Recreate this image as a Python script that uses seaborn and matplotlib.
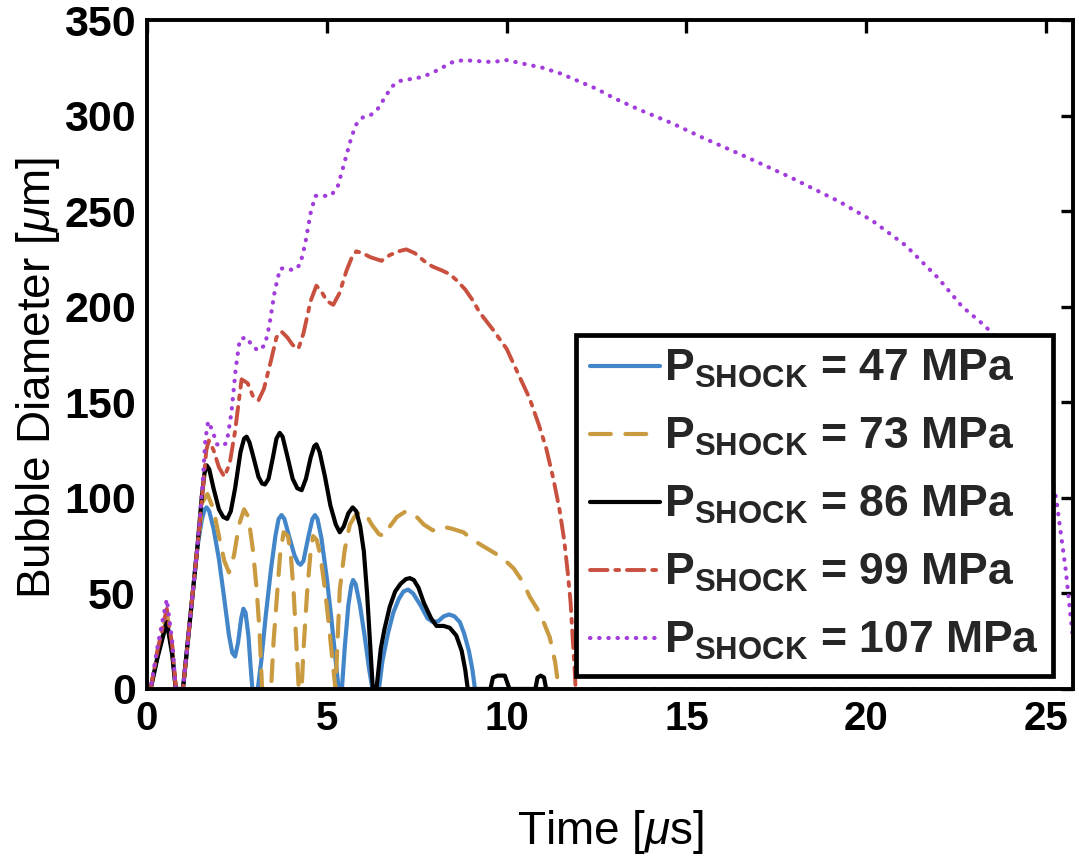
import numpy as np
import pandas as pd
import matplotlib
matplotlib.use("Agg")
import matplotlib.pyplot as plt
from matplotlib import font_manager as fm
import seaborn as sns

# ---------------- data ----------------
labels = [r"$\mathbf{P_{SHOCK}}$ = 47 MPa",
          r"$\mathbf{P_{SHOCK}}$ = 73 MPa",
          r"$\mathbf{P_{SHOCK}}$ = 86 MPa",
          r"$\mathbf{P_{SHOCK}}$ = 99 MPa",
          r"$\mathbf{P_{SHOCK}}$ = 107 MPa"]

t_47 = [0, 0.1, 0.3, 0.55, 0.7, 0.8, 1.0, 1.2, 1.4, 1.52, 1.6, 1.66, 1.73, 1.85, 2.0, 2.15,
        2.28, 2.37, 2.45, 2.53, 2.62, 2.68, 2.74, 2.82, 2.88, 2.93, 3.08, 3.18, 3.3, 3.45,
        3.57, 3.66, 3.74, 3.82, 3.95, 4.1, 4.2, 4.27, 4.35, 4.48, 4.6, 4.67, 4.74, 4.85, 5.0,
        5.12, 5.24, 5.33, 5.42, 5.5, 5.6, 5.68, 5.73, 5.8, 5.92, 6.05, 6.18, 6.27, 6.45, 6.55,
        6.7, 6.85, 7.0, 7.13, 7.26, 7.4, 7.6, 7.8, 7.95, 8.1, 8.25, 8.4, 8.55, 8.7, 8.82,
        8.95, 9.05, 9.12, 11.2]
d_47 = [0, 0, 18, 36, 20, 0, 0, 37, 74, 88, 94, 95, 93, 84, 68, 47,
        28, 19, 17, 24, 37, 42, 40, 28, 12, 0, 0, 15, 38, 63,
        80, 89, 91, 89, 80, 70, 66, 65, 67, 79, 89, 91, 89, 79, 58,
        38, 16, 0, 0, 22, 44, 54, 57, 55, 44, 28, 10, 0, 0, 15,
        29, 40, 47, 51, 52, 50, 44, 37, 35, 35.5, 38, 39, 38, 35, 29,
        20, 10, 0, 0]

t_73 = [0, 0.1, 0.3, 0.55, 0.7, 0.8, 1.0, 1.2, 1.4, 1.55, 1.68, 1.85, 2.0, 2.15, 2.28, 2.42,
        2.56, 2.7, 2.82, 2.95, 3.05, 3.13, 3.2, 3.45, 3.52, 3.62, 3.7, 3.8, 3.92, 4.0, 4.08,
        4.15, 4.22, 4.3, 4.35, 4.45, 4.55, 4.62, 4.72, 4.82, 4.95, 5.05, 5.13, 5.24, 5.3,
        5.36, 5.5, 5.64, 5.8, 5.95, 6.1, 6.25, 6.45, 6.6, 6.75, 6.95, 7.2, 7.45, 7.7, 7.95,
        8.2, 8.45, 8.8, 9.06, 9.5, 9.86, 10.2, 10.45, 10.65, 10.85, 11.05, 11.2, 11.35, 11.45]
d_73 = [0, 0, 20, 40, 22, 0, 0, 37, 74, 98, 102, 94, 80, 67, 61, 70,
        86, 94, 90, 72, 52, 30, 0, 0, 25, 50, 70, 82, 80, 70, 50,
        25, 0, 0, 20, 50, 72, 80, 78, 70, 52, 35, 20, 0, 25,
        52, 73, 86, 91, 93, 91, 86, 81, 80, 85, 90, 93, 91, 86, 83,
        85, 84, 82, 78, 73, 69, 63, 56, 48, 42, 34, 27, 14, 0]

t_86 = [0, 0.1, 0.3, 0.55, 0.7, 0.8, 1.0, 1.2, 1.4, 1.52, 1.6, 1.66, 1.73, 1.85, 2.0, 2.12,
        2.23, 2.33, 2.45, 2.6, 2.7, 2.77, 2.85, 2.95, 3.1, 3.2, 3.28, 3.38, 3.5, 3.6, 3.69,
        3.77, 3.9, 4.05, 4.18, 4.3, 4.42, 4.55, 4.65, 4.71, 4.8, 4.95, 5.1, 5.25, 5.36, 5.47,
        5.6, 5.72, 5.82, 5.93, 6.03, 6.12, 6.2, 6.28, 6.38, 6.5, 6.6, 6.75, 6.9, 7.05, 7.2,
        7.31, 7.42, 7.55, 7.7, 7.9, 8.05, 8.25, 8.42, 8.6, 8.75, 8.85, 8.92, 9.55, 9.62,
        9.75, 9.95, 10.08, 10.8, 10.86, 10.95, 11.04, 11.1, 11.2]
d_86 = [0, 0, 17, 35, 18, 0, 0, 37, 74, 100, 113, 117, 115, 105, 94, 90,
        89, 93, 105, 124, 131, 132, 129, 122, 111, 107.5, 107, 110, 121, 131, 134,
        132, 122, 110, 105, 104, 110, 121, 127, 128, 124, 111, 96, 86, 82, 85,
        92, 95, 93, 85, 72, 50, 25, 0, 0, 21, 31, 43, 51, 55, 57.5,
        58, 57, 53, 45, 37, 33, 33, 32, 28, 20, 10, 0, 0, 6,
        7, 7, 0, 0, 6, 7, 6, 0, 0]

t_99 = [0, 0.1, 0.3, 0.55, 0.7, 0.8, 1.0, 1.2, 1.4, 1.55, 1.65, 1.72, 1.85, 2.0, 2.15, 2.3,
        2.45, 2.63, 2.8, 2.95, 3.1, 3.25, 3.45, 3.6, 3.74, 3.9, 4.05, 4.21, 4.35, 4.55, 4.71,
        4.85, 5.0, 5.18, 5.35, 5.55, 5.7, 5.82, 6.0, 6.2, 6.52, 6.75, 7.0, 7.21, 7.45, 7.7,
        7.94, 8.2, 8.42, 8.6, 8.85, 9.07, 9.25, 9.62, 10.0, 10.27, 10.64, 10.9, 11.1, 11.3,
        11.47, 11.6, 11.7, 11.78, 11.83, 11.88, 11.92, 25.75]
d_99 = [0, 0, 21, 42, 23, 0, 0, 37, 74, 104, 125, 130, 125, 116, 111, 118,
        135, 162, 160, 153, 151, 157, 172, 184, 187, 184, 180, 178, 186, 203, 211,
        208, 203, 201, 207, 219, 226, 229, 228, 226, 224, 227, 229, 230, 228, 224,
        221, 219, 217, 214, 209, 203, 197, 188, 178, 167, 152, 138, 126, 110,
        94, 78, 61, 45, 29, 14, 0, 0]

t_107 = [0, 0.1, 0.3, 0.55, 0.7, 0.8, 1.0, 1.2, 1.4, 1.55, 1.62, 1.7, 1.8, 1.95, 2.1, 2.22,
         2.35, 2.47, 2.58, 2.76, 2.95, 3.1, 3.28, 3.4, 3.55, 3.7, 3.9, 4.07, 4.26, 4.4, 4.55,
         4.68, 4.9, 5.1, 5.29, 5.47, 5.66, 5.8, 6.0, 6.2, 6.4, 6.6, 6.8, 7.0, 7.3, 7.6, 7.9,
         8.2, 8.5, 8.8, 9.2, 9.6, 10.0, 10.5, 11.0, 11.5, 12.0, 12.5, 13.0, 13.7, 14.6, 15.5,
         16.47, 17.86, 19.25, 20.17, 21.1, 22.0, 22.67, 23.3, 23.8, 24.3, 24.8, 25.28, 25.55,
         25.75]
d_107 = [0, 0, 23, 47, 25, 0, 0, 37, 74, 108, 130, 140, 136, 128, 127, 129,
         145, 168, 183, 184, 179, 177, 180, 190, 208, 220, 220, 219, 222, 233, 249,
         258, 258, 258, 262, 274, 287, 295, 299, 300, 303, 309, 315, 318, 319, 320, 322,
         325, 328, 329, 328.5, 328, 329, 327, 325, 322, 318, 314, 309, 303, 296, 288,
         280, 268, 255, 245, 232, 215, 200, 190, 180, 163, 138, 100, 62,
         26]

series_t = [t_47, t_73, t_86, t_99, t_107]
series_d = [d_47, d_73, d_86, d_99, d_107]

x_ticks = [0, 5, 10, 15, 20, 25]
y_ticks = [0, 50, 100, 150, 200, 250, 300, 350]

# ---------------- styling ----------------
colors = ["#4286c9", "#c99a3f", "#000000", "#c9503f", "#a23ddb"]
styles = ["-", (0, (5, 3.5)), "-", (0, (4.5, 2.0, 1.0, 2.0)), (0, (0.1, 2.1))]
widths = [3.0, 3.0, 3.0, 2.8, 3.0]

sns.set_theme(style="white")
plt.rcParams["font.family"] = ["Liberation Sans", "DejaVu Sans"]
plt.rcParams["mathtext.fontset"] = "custom"
plt.rcParams["mathtext.rm"] = "Liberation Sans"
plt.rcParams["mathtext.it"] = "Liberation Sans:italic"
plt.rcParams["mathtext.bf"] = "Liberation Sans:bold"

names = {f.name for f in fm.fontManager.ttflist}
narrow = "Liberation Sans Narrow" in names
label_family = ["Liberation Sans Narrow"] if narrow else ["Liberation Sans"]
label_size = 40 if narrow else 33

fig = plt.figure(figsize=(10.79, 8.56), dpi=100)
ax = fig.add_axes([147 / 1079, 1 - 689 / 856, (1073 - 147) / 1079, (689 - 20) / 856])

for t, d, lab, c, ls, lw in zip(series_t, series_d, labels, colors, styles, widths):
    df = pd.DataFrame({"Time": t, "Diameter": d})
    sns.lineplot(data=df, x="Time", y="Diameter", ax=ax, color=c, linestyle=ls,
                 linewidth=lw, label=lab, sort=False, estimator=None)
    ln = ax.lines[-1]
    ln.set_dash_capstyle("round")
    ln.set_solid_capstyle("round")
    ln.set_solid_joinstyle("round")

ax.set_xlim(0, 25.75)
ax.set_ylim(0, 350)
ax.set_xticks(x_ticks)
ax.set_yticks(y_ticks)
ax.set_xticklabels([str(v) for v in x_ticks])
ax.set_yticklabels([str(v) for v in y_ticks])
ax.tick_params(axis="both", which="major", direction="in", length=9, width=2.4,
               top=True, right=True, pad=8, colors="black")
ax.tick_params(axis="y", labelsize=31)
ax.tick_params(axis="x", labelsize=29)
for lab in ax.get_xticklabels() + ax.get_yticklabels():
    lab.set_fontweight("bold")
for sp in ax.spines.values():
    sp.set_linewidth(2.8)
    sp.set_color("black")

ax.set_xlabel(r"Time [$\mu$s]", family=label_family, fontsize=label_size, color="black")
ax.set_ylabel(r"Bubble Diameter [$\mu$m]", family=label_family, fontsize=label_size,
              color="black")
ax.xaxis.set_label_coords(0.5, -0.178)
ax.yaxis.set_label_coords(-0.092, 0.465)

leg = ax.legend(loc="lower right", bbox_to_anchor=(0.978, 0.02),
                prop={"family": "Liberation Sans", "weight": "bold", "size": 32},
                handlelength=1.58, handletextpad=0.1, labelspacing=0.58, borderpad=0.3,
                borderaxespad=0.0, frameon=True, fancybox=False)
leg.get_frame().set_edgecolor("black")
leg.get_frame().set_linewidth(3.4)
leg.get_frame().set_alpha(1.0)

fig.savefig("out.png", dpi=100, facecolor="white")
